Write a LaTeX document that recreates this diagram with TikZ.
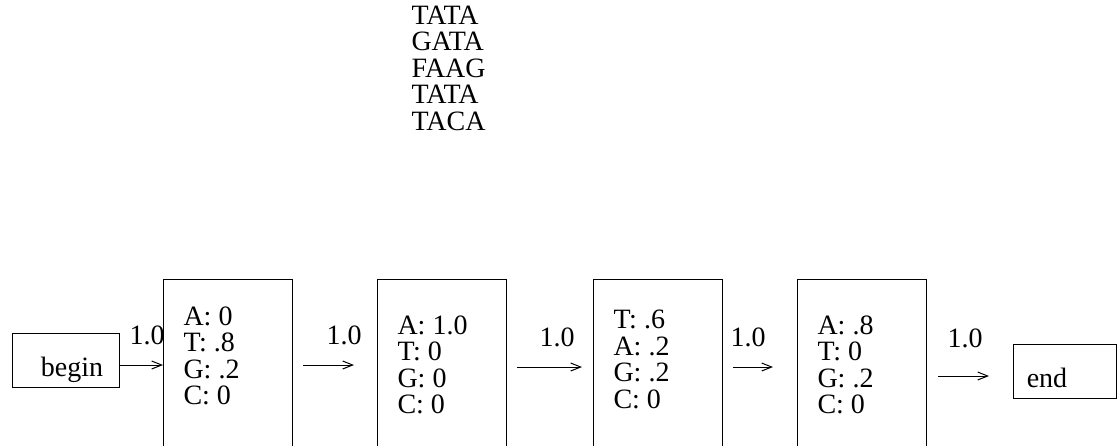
\documentclass[tikz,border=0pt]{standalone}
\usepackage{fontspec}
\setmainfont{Liberation Serif}
\usetikzlibrary{arrows.meta}
\begin{document}
\begin{tikzpicture}[x=0.5pt,y=-0.5pt,
  font=\fontsize{14}{13.25}\selectfont, line width=0.5pt,
  statebox/.style={draw, minimum width=64.5pt, minimum height=90.5pt, anchor=north west, inner sep=0pt},
  endbox/.style={draw, anchor=north west, inner sep=0pt},
  probs/.style={align=left, inner sep=0pt, anchor=west},
  arr/.style={-{Straight Barb[length=5pt,width=4pt]}},
  lbl/.style={inner sep=0pt}]
\useasboundingbox (0,0) rectangle (1117,445);
\clip (0,0) rectangle (1117,445);

% sequences
\node[probs] (seqs) at (411,68) {TATA\\GATA\\FAAG\\TATA\\TACA};

% begin / end
\node[endbox, minimum width=53.5pt, minimum height=27pt] (begin) at (12,333) {};
\node[lbl] (begintxt) at (72,370) {begin};
\node[endbox, minimum width=51.5pt, minimum height=27pt] (end) at (1013,344) {};
\node[lbl] (endtxt) at (1047,378) {end};

% states
\node[statebox] (s1) at (163,279) {};
\node[statebox] (s2) at (377,279) {};
\node[statebox] (s3) at (593,279) {};
\node[statebox] (s4) at (797,279) {};

\node[probs] (p1) at (183,356) {A: 0\\T: .8\\G: .2\\C: 0};
\node[probs] (p2) at (397,365) {A: 1.0\\T: 0\\G: 0\\C: 0};
\node[probs] (p3) at (613,359.5) {T: .6\\A: .2\\G: .2\\C: 0};
\node[probs] (p4) at (817,365) {A: .8\\T: 0\\G: .2\\C: 0};

% transitions
\draw[arr] (begin.east|-0,365) -- (s1.west|-0,365);
\draw[arr, shorten <=5pt, shorten >=11.5pt] (s1.east|-0,365) -- (s2.west|-0,365);
\draw[arr, shorten <=5pt, shorten >=5.5pt] (s2.east|-0,367) -- (s3.west|-0,367);
\draw[arr, shorten <=5pt, shorten >=12pt] (s3.east|-0,367) -- (s4.west|-0,367);
\draw[arr, shorten <=5.5pt, shorten >=12pt] (s4.east|-0,376) -- (end.west|-0,376);

\node[lbl] (l0) at (147,335) {1.0};
\node[lbl] (l1) at (344,335) {1.0};
\node[lbl] (l2) at (557,337) {1.0};
\node[lbl] (l3) at (748,337) {1.0};
\node[lbl] (l4) at (965,338) {1.0};
\end{tikzpicture}
\end{document}
